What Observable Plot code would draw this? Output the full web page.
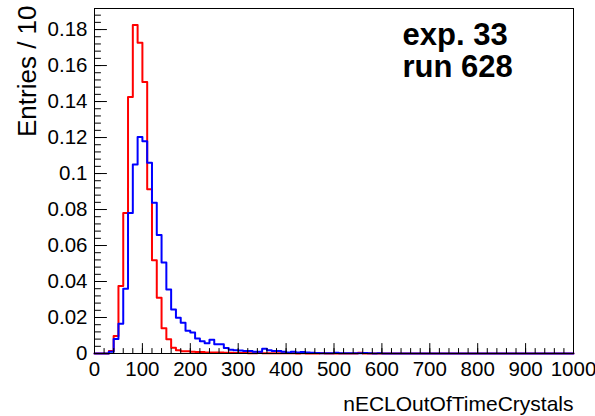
<!DOCTYPE html>
<html>
<head>
<meta charset="utf-8">
<script src="https://cdn.jsdelivr.net/npm/d3@7"></script>
<script src="https://cdn.jsdelivr.net/npm/@observablehq/plot@0.6"></script>
<style>
  html, body { margin: 0; padding: 0; background: #ffffff; }
  #chart svg { display: block; }
</style>
</head>
<body>
<div id="chart"></div>
<script>
// ---- data ----
const binWidth = 10;
const xRange = [0, 1000];
const yRange = [0, 0.1917];

const redValues = [
  0, 0, 0, 0.0014, 0.0097, 0.0375, 0.078, 0.1425, 0.1825, 0.1727,
  0.1508, 0.0912, 0.0518, 0.031, 0.014, 0.0079, 0.0032, 0.0018, 0.0013, 0.0012,
  0.001, 0.0008, 0.0008, 0.0006, 0.0006, 0.0005, 0.0005, 0.0004, 0.0004, 0.0003,
  0.0003, 0.0003, 0.0002, 0.0002, 0.0003, 0.0002, 0.0002, 0.0001, 0.0001, 0.0002,
  0.0001, 0.0001, 0, 0.0001, 0, 0, 0, 0.0001, 0, 0,
  0, 0, 0, 0, 0, 0.0004, 0, 0, 0, 0,
  0, 0, 0, 0, 0, 0, 0, 0, 0, 0,
  0, 0, 0, 0, 0, 0, 0, 0, 0, 0,
  0, 0, 0, 0, 0, 0, 0, 0, 0, 0,
  0, 0, 0, 0, 0, 0, 0, 0, 0, 0
];

const blueValues = [
  0, 0, 0, 0.001, 0.008, 0.0166, 0.036, 0.078, 0.105, 0.1203,
  0.118, 0.106, 0.0838, 0.0658, 0.0505, 0.0356, 0.0245, 0.0199, 0.0171, 0.0127,
  0.0116, 0.0084, 0.0068, 0.0057, 0.0077, 0.0051, 0.0051, 0.0031, 0.0021, 0.0018,
  0.0017, 0.0014, 0.0014, 0.001, 0.001, 0.0027, 0.0018, 0.0014, 0.0014, 0.001,
  0.0006, 0.001, 0.0005, 0.0008, 0.0005, 0.0004, 0.0003, 0.0002, 0.0002, 0.0002,
  0.0004, 0.0002, 0.0001, 0.0001, 0.0001, 0.0001, 0.0003, 0.0001, 0, 0.0001,
  0, 0, 0, 0, 0, 0, 0, 0, 0, 0,
  0, 0, 0, 0, 0, 0, 0, 0, 0, 0,
  0, 0, 0, 0, 0, 0, 0, 0, 0, 0,
  0, 0, 0, 0, 0, 0, 0, 0, 0, 0
];

const xTickLabels = [0, 100, 200, 300, 400, 500, 600, 700, 800, 900, 1000];
const yTickLabels = [0, 0.02, 0.04, 0.06, 0.08, 0.1, 0.12, 0.14, 0.16, 0.18];
const xMinorStep = 20;
const yMinorStep = 0.004;

const xTitle = "nECLOutOfTimeCrystals";
const yTitle = "Entries / 10";
const annotation = "exp. 33\nrun 628";

// ---- derived tables ----
function stepPoints(values) {
  const pts = values.map((v, i) => ({x: xRange[0] + i * binWidth, y: v}));
  pts.push({x: xRange[0] + values.length * binWidth, y: values[values.length - 1]});
  return pts;
}
const redSteps = stepPoints(redValues);
const blueSteps = stepPoints(blueValues);

const xMinor = d3.range(xRange[0], xRange[1] + 1e-9, xMinorStep);
const yMinor = d3.range(0, yRange[1], yMinorStep);

const fmtY = d => String(+d.toFixed(3));

// plain line shape for tick vectors (no arrowhead)
const tickShape = {draw(context, l) { context.moveTo(0, 0); context.lineTo(0, -l); }};

const chart = Plot.plot({
  width: 595,
  height: 416,
  marginLeft: 94,
  marginRight: 22,
  marginTop: 8,
  marginBottom: 63,
  style: {fontFamily: "'Liberation Sans', Arial, Helvetica, sans-serif", fontSize: "20px", background: "#ffffff", color: "#000"},
  x: {domain: xRange},
  y: {domain: yRange},
  marks: [
    // histograms
    Plot.line(redSteps, {x: "x", y: "y", curve: "step-after", stroke: "#ff0000", strokeWidth: 2}),
    Plot.line(blueSteps, {x: "x", y: "y", curve: "step-after", stroke: "#0000ff", strokeWidth: 2}),
    // frame
    Plot.frame({stroke: "#000", strokeWidth: 1}),
    // inward ticks
    Plot.vector(yMinor, {x: xRange[0], y: d => d, length: 6, rotate: 90, anchor: "start", shape: tickShape, stroke: "#000", strokeWidth: 1}),
    Plot.vector(yTickLabels, {x: xRange[0], y: d => d, length: 12, rotate: 90, anchor: "start", shape: tickShape, stroke: "#000", strokeWidth: 1}),
    Plot.vector(xMinor, {x: d => d, y: yRange[0], length: 5, rotate: 0, anchor: "start", shape: tickShape, stroke: "#000", strokeWidth: 1}),
    Plot.vector(xTickLabels, {x: d => d, y: yRange[0], length: 10, rotate: 0, anchor: "start", shape: tickShape, stroke: "#000", strokeWidth: 1}),
    // tick labels
    Plot.axisY(yTickLabels, {tickSize: 0, tickPadding: 7, tickFormat: fmtY, label: null, fontSize: 20.5}),
    Plot.axisX(xTickLabels, {tickSize: 0, tickPadding: 8, tickFormat: d => String(d), label: null, fontSize: 20.5}),
    // axis titles
    Plot.text([xTitle], {text: d => d, frameAnchor: "bottom-right", textAnchor: "end", lineAnchor: "bottom", dy: 57, fontSize: 21}),
    Plot.text([yTitle], {text: d => d, frameAnchor: "top-left", rotate: -90, textAnchor: "end", lineAnchor: "middle", dx: -67, dy: -3, fontSize: 26}),
    // annotation
    Plot.text([annotation], {text: d => d, frameAnchor: "top-left", textAnchor: "start", lineAnchor: "top", dx: 308, dy: 13, fontSize: 31, fontWeight: "bold", lineHeight: 1.05})
  ]
});

document.getElementById("chart").appendChild(chart);
</script>
</body>
</html>
